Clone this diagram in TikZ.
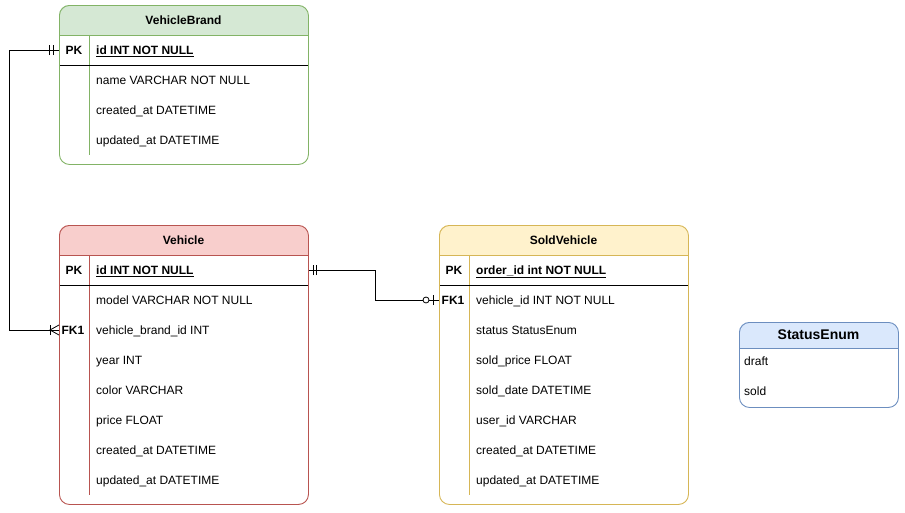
\documentclass[tikz,border=0pt]{standalone}
\usepackage{fontspec}
\setmainfont{Liberation Sans}
\definecolor{gfill}{HTML}{D5E8D4}\definecolor{gline}{HTML}{82B366}
\definecolor{rfill}{HTML}{F8CECC}\definecolor{rline}{HTML}{B85450}
\definecolor{yfill}{HTML}{FFF2CC}\definecolor{yline}{HTML}{D6B656}
\definecolor{bfill}{HTML}{DAE8FC}\definecolor{bline}{HTML}{6C8EBF}
\begin{document}
\begin{tikzpicture}[x=1pt,y=-1pt,
  tbl/.style={draw,rounded corners=10pt,line width=0.9pt,inner sep=0pt,anchor=north west},
  hdrtext/.style={font=\fontsize{12}{14}\selectfont\bfseries,inner sep=0pt,text height=10pt,text depth=1.5pt},
  keytext/.style={font=\fontsize{12}{14}\selectfont\bfseries,inner sep=0pt,text height=10pt,text depth=1.5pt},
  fieldtext/.style={font=\fontsize{12}{14}\selectfont,inner sep=0pt,anchor=west,text height=10pt,text depth=1.5pt},
  conn/.style={draw=black,line width=0.8pt}]
\useasboundingbox (0,0) rectangle (905,512);

% ---------- VehicleBrand ----------
\begin{scope}
\clip (59,5) rectangle (308,35);
\fill[gfill,rounded corners=10pt] (59,5) rectangle (308,164);
\end{scope}
\draw[gline,line width=0.9pt] (59,35) -- (308,35);
\draw[gline,line width=0.9pt] (89,35) -- (89,155);
\draw[black,line width=0.8pt] (59,65) -- (308,65);
\node[tbl,draw=gline,minimum width=249pt,minimum height=159pt] (vb) at (59,5) {};
\node[hdrtext] (vbh) at (183.5,20) {VehicleBrand};
\node[keytext] (vbpk) at (74,50) {PK};
\node[fieldtext] (vbf1) at (96,50) {\bfseries\underline{id INT NOT NULL}};
\node[fieldtext] (vbf2) at (96,80) {name VARCHAR NOT NULL};
\node[fieldtext] (vbf3) at (96,110) {created\_at DATETIME};
\node[fieldtext] (vbf4) at (96,140) {updated\_at DATETIME};

% ---------- Vehicle ----------
\begin{scope}
\clip (59,225) rectangle (308,255);
\fill[rfill,rounded corners=10pt] (59,225) rectangle (308,504);
\end{scope}
\draw[rline,line width=0.9pt] (59,255) -- (308,255);
\draw[rline,line width=0.9pt] (89,255) -- (89,495);
\draw[black,line width=0.8pt] (59,285) -- (308,285);
\node[tbl,draw=rline,minimum width=249pt,minimum height=279pt] (v) at (59,225) {};
\node[hdrtext] (vh) at (183.5,240) {Vehicle};
\node[keytext] (vpk) at (74,270) {PK};
\node[keytext] (vfk) at (73,330) {FK1};
\node[fieldtext] (vf1) at (96,270) {\bfseries\underline{id INT NOT NULL}};
\node[fieldtext] (vf2) at (96,300) {model VARCHAR NOT NULL};
\node[fieldtext] (vf3) at (96,330) {vehicle\_brand\_id INT};
\node[fieldtext] (vf4) at (96,360) {year INT};
\node[fieldtext] (vf5) at (96,390) {color VARCHAR};
\node[fieldtext] (vf6) at (96,420) {price FLOAT};
\node[fieldtext] (vf7) at (96,450) {created\_at DATETIME};
\node[fieldtext] (vf8) at (96,480) {updated\_at DATETIME};

% ---------- SoldVehicle ----------
\begin{scope}
\clip (439,225) rectangle (688,255);
\fill[yfill,rounded corners=10pt] (439,225) rectangle (688,504);
\end{scope}
\draw[yline,line width=0.9pt] (439,255) -- (688,255);
\draw[yline,line width=0.9pt] (469,255) -- (469,495);
\draw[black,line width=0.8pt] (439,285) -- (688,285);
\node[tbl,draw=yline,minimum width=249pt,minimum height=279pt] (s) at (439,225) {};
\node[hdrtext] (sh) at (563.5,240) {SoldVehicle};
\node[keytext] (spk) at (454,270) {PK};
\node[keytext] (sfk) at (453,300) {FK1};
\node[fieldtext] (sf1) at (476,270) {\bfseries\underline{order\_id int NOT NULL}};
\node[fieldtext] (sf2) at (476,300) {vehicle\_id INT NOT NULL};
\node[fieldtext] (sf3) at (476,330) {status StatusEnum};
\node[fieldtext] (sf4) at (476,360) {sold\_price FLOAT};
\node[fieldtext] (sf5) at (476,390) {sold\_date DATETIME};
\node[fieldtext] (sf6) at (476,420) {user\_id VARCHAR};
\node[fieldtext] (sf7) at (476,450) {created\_at DATETIME};
\node[fieldtext] (sf8) at (476,480) {updated\_at DATETIME};

% ---------- StatusEnum ----------
\begin{scope}
\clip (739,322) rectangle (898,348);
\fill[bfill,rounded corners=10pt] (739,322) rectangle (898,407);
\end{scope}
\draw[bline,line width=0.9pt] (739,348) -- (898,348);
\node[tbl,draw=bline,minimum width=159pt,minimum height=85pt] (se) at (739,322) {};
\node[hdrtext,font=\fontsize{14}{16}\selectfont\bfseries,text height=11.5pt,text depth=2.5pt] (seh) at (818.5,335) {StatusEnum};
\node[fieldtext] (se1) at (744,361) {draft};
\node[fieldtext] (se2) at (744,391) {sold};

% ---------- connectors ----------
\coordinate (vbL) at (vb.west |- vbpk);
\coordinate (vL) at (v.west |- vfk);
\coordinate (vR) at (v.east |- vpk);
\coordinate (sL) at (s.west |- sfk);

\draw[conn] (vbL) -- ++(-50,0) |- (vL);
% mandatory one at VehicleBrand
\draw[conn] ([xshift=-10pt,yshift=-5pt]vbL) -- ([xshift=-10pt,yshift=5pt]vbL);
\draw[conn] ([xshift=-6pt,yshift=-5pt]vbL) -- ([xshift=-6pt,yshift=5pt]vbL);
% one-to-many at Vehicle
\draw[conn] ([xshift=-9pt,yshift=-5pt]vL) -- ([xshift=-9pt,yshift=5pt]vL);
\draw[conn] ([xshift=0pt,yshift=-5pt]vL) -- ([xshift=-9pt]vL) -- ([xshift=0pt,yshift=5pt]vL);

\draw[conn] (vR) -- ++(66,0) |- (sL);
% mandatory one at Vehicle
\draw[conn] ([xshift=4pt,yshift=-5pt]vR) -- ([xshift=4pt,yshift=5pt]vR);
\draw[conn] ([xshift=7pt,yshift=-5pt]vR) -- ([xshift=7pt,yshift=5pt]vR);
% zero-to-one at SoldVehicle
\draw[conn] ([xshift=-6pt,yshift=-5pt]sL) -- ([xshift=-6pt,yshift=5pt]sL);
\draw[conn,fill=white] ([xshift=-13pt]sL) circle (3pt);
\end{tikzpicture}
\end{document}
